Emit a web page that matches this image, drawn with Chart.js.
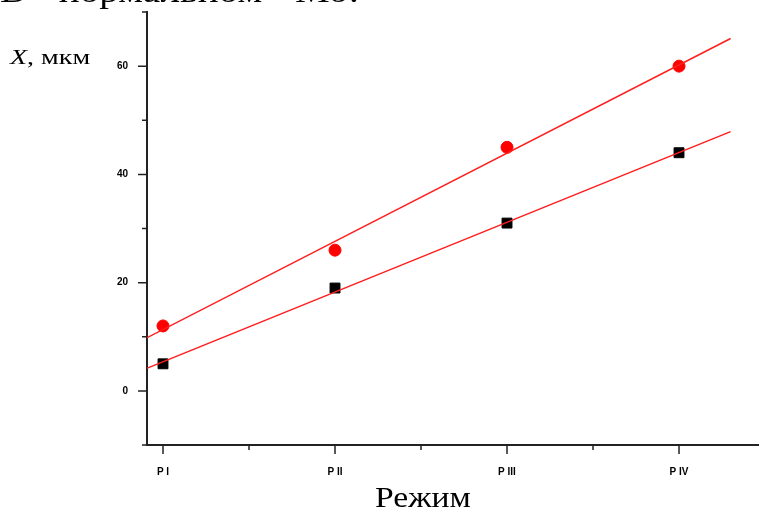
<!DOCTYPE html>
<html>
<head>
<meta charset="utf-8">
<script src="https://cdn.jsdelivr.net/npm/chart.js@4.4.0/dist/chart.umd.min.js"></script>
<style>
html, body { margin: 0; padding: 0; background: #fff; }
#wrap { position: relative; width: 759px; height: 510px; overflow: hidden; }
#chart { position: absolute; left: 0; top: 0; }
.txt { position: absolute; font-family: "Liberation Serif", "Times New Roman", serif; color: #000; white-space: nowrap; line-height: 1; transform-origin: 0 0; }
#head { left: 0; top: -26px; font-size: 34px; word-spacing: 20px; transform: scaleX(1.15); }
#ylab { left: 10px; top: 47px; font-size: 20px; transform: scaleX(1.4); }
#xlab { left: 375px; top: 483px; font-size: 29px; transform: scaleX(1.16); }
</style>
</head>
<body>
<div id="wrap">
    <canvas id="chart" width="767" height="510"></canvas>
    <div class="txt" id="head">В нормальном Мо:</div>
    <div class="txt" id="ylab"><i>X</i>, мкм</div>
    <div class="txt" id="xlab">Режим</div>
</div>
<script>
const regimes = ['Р I', 'Р II', 'Р III', 'Р IV'];
const regimePos = [1, 2, 3, 4];
const redValues = [12, 26, 45, 60];
const blackValues = [5, 19, 31, 44];

// fitted straight lines, endpoints
const fitX = [0.9, 4.3];
const redFitY = [9.7, 65.1];
const blackFitY = [4.1, 47.9];

const yTicks = [0, 20, 40, 60];
const yMinorTicks = [-10, 10, 30, 50, 70];
const xMinorTicks = [1.5, 2.5, 3.5];

function toPoints(xs, ys) {
    return xs.map((x, i) => ({ x: x, y: ys[i] }));
}

function noPadding(s) {
    s.paddingTop = 0;
    s.paddingBottom = 0;
    s.paddingLeft = 0;
    s.paddingRight = 0;
}

const axisTicks = {
    id: 'axisTicks',
    afterDraw(chart) {
        const ctx = chart.ctx;
        const xs = chart.scales.x;
        const ys = chart.scales.y;
        const left = chart.chartArea.left;
        const bottom = chart.chartArea.bottom;
        ctx.save();
        ctx.strokeStyle = '#222';
        ctx.lineWidth = 1.5;
        ctx.beginPath();
        yTicks.forEach(v => {
            const y = ys.getPixelForValue(v);
            ctx.moveTo(left - 9, y);
            ctx.lineTo(left, y);
        });
        yMinorTicks.forEach(v => {
            const y = ys.getPixelForValue(v);
            ctx.moveTo(left - 5, y);
            ctx.lineTo(left, y);
        });
        regimePos.forEach(v => {
            const x = xs.getPixelForValue(v);
            ctx.moveTo(x, bottom);
            ctx.lineTo(x, bottom + 9);
        });
        xMinorTicks.forEach(v => {
            const x = xs.getPixelForValue(v);
            ctx.moveTo(x, bottom);
            ctx.lineTo(x, bottom + 5);
        });
        ctx.stroke();
        ctx.restore();
    }
};

const tickFont = { family: 'Liberation Sans, Arial, sans-serif', size: 10, weight: 'bold' };

new Chart(document.getElementById('chart'), {
    type: 'scatter',
    data: {
        datasets: [
            {
                label: 'fit 1',
                data: toPoints(fitX, redFitY),
                showLine: true,
                borderColor: 'rgb(255, 30, 30)',
                borderWidth: 1.5,
                pointRadius: 0
            },
            {
                label: 'fit 2',
                data: toPoints(fitX, blackFitY),
                showLine: true,
                borderColor: 'rgb(255, 30, 30)',
                borderWidth: 1.5,
                pointRadius: 0
            },
            {
                label: 'red',
                data: toPoints(regimePos, redValues),
                pointStyle: 'circle',
                pointRadius: 6,
                backgroundColor: '#ff0000',
                borderColor: '#ff0000',
                borderWidth: 1
            },
            {
                label: 'black',
                data: toPoints(regimePos, blackValues),
                pointStyle: 'rect',
                pointRadius: 7,
                backgroundColor: '#000',
                borderColor: '#000',
                borderWidth: 1
            }
        ]
    },
    options: {
        responsive: false,
        animation: false,
        layout: { padding: { top: 12, right: 0, left: 0, bottom: 0 } },
        plugins: {
            legend: { display: false },
            tooltip: { enabled: false }
        },
        scales: {
            x: {
                type: 'linear',
                min: 0.907,
                max: 4.465,
                afterBuildTicks: s => { s.ticks = regimePos.map(v => ({ value: v })); },
                afterFit: s => { s.height = 65; noPadding(s); },
                grid: { display: false, drawTicks: false },
                border: { display: true, color: '#222', width: 2 },
                ticks: {
                    color: '#000',
                    font: tickFont,
                    padding: 21,
                    maxRotation: 0,
                    callback: (v, i) => regimes[i]
                }
            },
            y: {
                type: 'linear',
                min: -10,
                max: 70,
                afterBuildTicks: s => { s.ticks = yTicks.map(v => ({ value: v })); },
                afterFit: s => { s.width = 147; noPadding(s); },
                grid: { display: false, drawTicks: false },
                border: { display: true, color: '#222', width: 2 },
                ticks: {
                    color: '#000',
                    font: tickFont,
                    padding: 19,
                    callback: v => v
                }
            }
        }
    },
    plugins: [axisTicks]
});
</script>
</body>
</html>
